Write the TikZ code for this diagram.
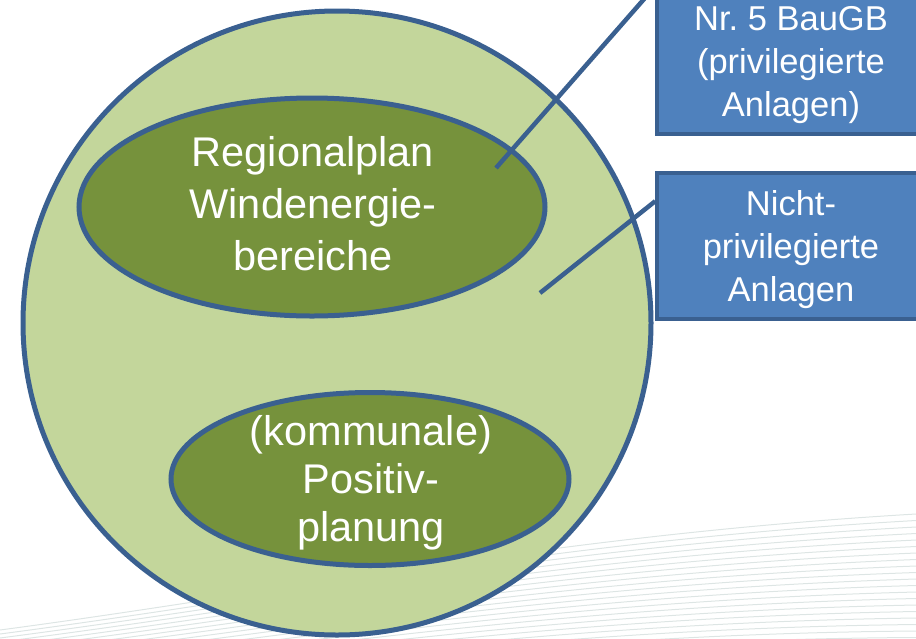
\documentclass[tikz,border=0pt]{standalone}
\usepackage{fontspec}
\setmainfont{Liberation Sans}
\usepackage{tikz}
\usetikzlibrary{calc}
\usetikzlibrary{shapes.geometric}

\definecolor{rahmenblau}{HTML}{3A6090}
\definecolor{kastenblau}{HTML}{4F81BD}
\definecolor{hellgruen}{HTML}{C3D69B}
\definecolor{dunkelgruen}{HTML}{76923C}
\definecolor{streifengrau}{HTML}{DDE5E4}

\begin{document}
\begin{tikzpicture}[
    x=1pt, y=-1pt,
    gebiet/.style={ellipse, draw=rahmenblau, line width=5pt, inner sep=0pt},
    kasten/.style={rectangle, draw=rahmenblau, fill=kastenblau, line width=3.5pt,
      minimum width=268pt, minimum height=146pt, text=white, align=center,
      text depth=0pt, font=\fontsize{34.5}{43}\selectfont},
    beschriftung/.style={text=white, align=center, inner sep=0pt},
    verbinder/.style={draw=rahmenblau, line width=4.5pt},
    streifen/.style={draw=streifengrau, line width=1pt}]

    \useasboundingbox (0, 0) rectangle (916, 638);
    \clip (0, 0) rectangle (916, 638);

    \foreach \k in {0,...,19}
      \draw [streifen] (0, 630+\k*4) .. controls (300, 590+\k*4.5)
      and (560, 535+\k*5.5) .. (916, 514+\k*6.5);

    \node [gebiet, fill=hellgruen, minimum width=628pt, minimum height=624pt]
    (aussen) at (337, 323) {};

    \node [gebiet, fill=dunkelgruen, minimum width=466pt, minimum height=218pt]
    (regio) at (312, 207) {};
    \node [beschriftung, font=\fontsize{41.5}{52}\selectfont]
    (regio-text) at (313, 204) {Regionalplan\\Windenergie-\\bereiche};

    \node [gebiet, fill=dunkelgruen, minimum width=398pt, minimum height=173pt]
    (kommunal) at (370, 479) {};
    \node [beschriftung, font=\fontsize{41.5}{48}\selectfont]
    (kommunal-text) at (371, 483) {(kommunale)\\Positiv-\\planung};

    \coordinate (regio-punkt) at (496, 168);
    \coordinate (nicht-punkt) at (540, 293);

    \node [kasten] (privbox) at (791, 61) {Nr.\ 5 BauGB\\(privilegierte\\Anlagen)};
    \node [kasten] (nichtbox) at (791, 246) {Nicht-\\privilegierte\\Anlagen};

    \draw [verbinder] (regio-punkt) -- (privbox.north west);
    \draw [verbinder] (nicht-punkt)
    -- ($(nichtbox.north west)!0.2!(nichtbox.south west)$);

  \end{tikzpicture}
\end{document}
